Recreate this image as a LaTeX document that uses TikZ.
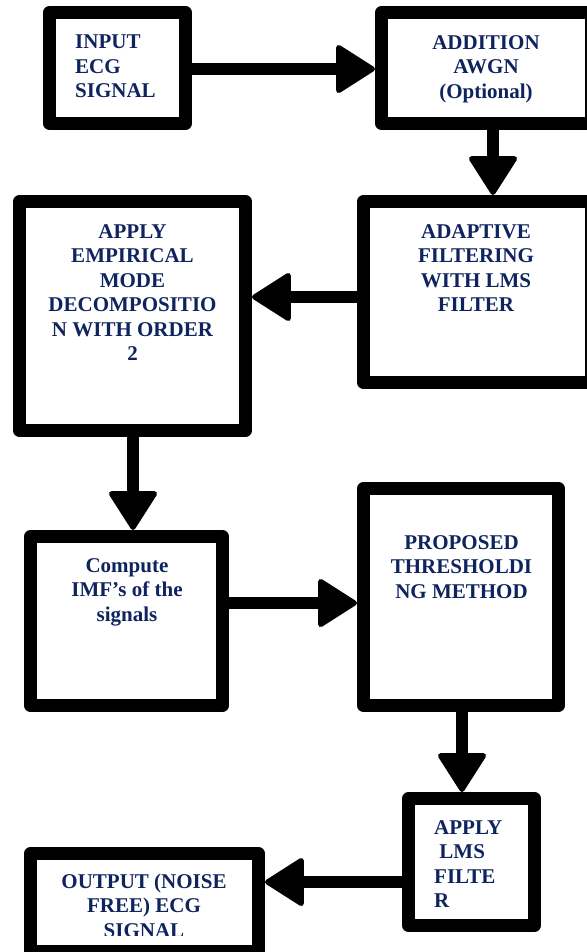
\documentclass[tikz,border=0pt]{standalone}
\usepackage{fontspec}
\setmainfont{Liberation Serif}
\usetikzlibrary{arrows.meta}
\definecolor{navy}{RGB}{15,36,95}
\begin{document}
\begin{tikzpicture}[x=1pt,y=-1pt,
  box/.style={draw=black, fill=white, line width=13pt, line join=round, inner sep=0pt},
  arr/.style={draw=black, line width=12pt, -{Triangle[length=41pt,width=51pt,round,line width=5pt]}},
  txt/.style={text=navy, font=\bfseries\fontsize{21}{24.5}\selectfont, inner sep=0pt}]
\useasboundingbox[fill=white] (0,0) rectangle (586,952);
% boxes
\node[box, minimum width=136pt, minimum height=111pt] (b1) at (117.5,68) {};
\node[box, minimum width=210pt, minimum height=111pt] (b2) at (486.5,68) {};
\node[box, minimum width=226pt, minimum height=229pt] (b3) at (132.5,316) {};
\node[box, minimum width=228pt, minimum height=181pt] (b4) at (477.5,292) {};
\node[box, minimum width=192pt, minimum height=169pt] (b5) at (126.5,621) {};
\node[box, minimum width=195pt, minimum height=217pt] (b6) at (461,597) {};
\node[box, minimum width=126pt, minimum height=127pt] (b7) at (471.5,862) {};
\node[box, minimum width=228pt, minimum height=98pt] (b8) at (144.5,902.5) {};
% texts
\node[txt, anchor=north west, align=left] (t1) at (75,35) {INPUT\\ECG\\SIGNAL};
\node[txt, anchor=north, align=center] (t2) at (486,35) {ADDITION\\AWGN\\(Optional)};
\node[txt, anchor=north, align=center] (t3) at (132.5,224) {APPLY\\EMPIRICAL\\MODE\\DECOMPOSITIO\\N WITH ORDER\\2};
\node[txt, anchor=north, align=center] (t4) at (476,224) {ADAPTIVE\\FILTERING\\WITH LMS\\FILTER};
\node[txt, anchor=north, align=center] (t5) at (127,558) {Compute\\IMF’s of the\\signals};
\node[txt, anchor=north, align=center] (t6) at (461.5,535) {PROPOSED\\THRESHOLDI\\NG METHOD};
\node[txt, anchor=north west, align=left] (t7) at (434,820) {APPLY\\\hspace*{0.25em}LMS\\FILTE\\R};
\begin{scope}
\clip (0,0) rectangle (586,935);
\node[txt, anchor=north, align=center] (t8) at (144,873.5) {OUTPUT (NOISE\\FREE) ECG\\SIGNAL};
\end{scope}
% connectors
\draw[arr] (b1.east |- 0,69) -- (b2.west |- 0,69);
\draw[arr] (b2.south -| 493,0) -- (b4.north -| 493,0);
\draw[arr] (b4.west |- 0,297) -- (b3.east |- 0,297);
\draw[arr] (b3.south -| 133,0) -- (b5.north -| 133,0);
\draw[arr] (b5.east |- 0,603) -- (b6.west |- 0,603);
\draw[arr] (b6.south -| 462,0) -- (b7.north -| 462,0);
\draw[arr] (b7.west |- 0,882) -- (b8.east |- 0,882);
\end{tikzpicture}
\end{document}
